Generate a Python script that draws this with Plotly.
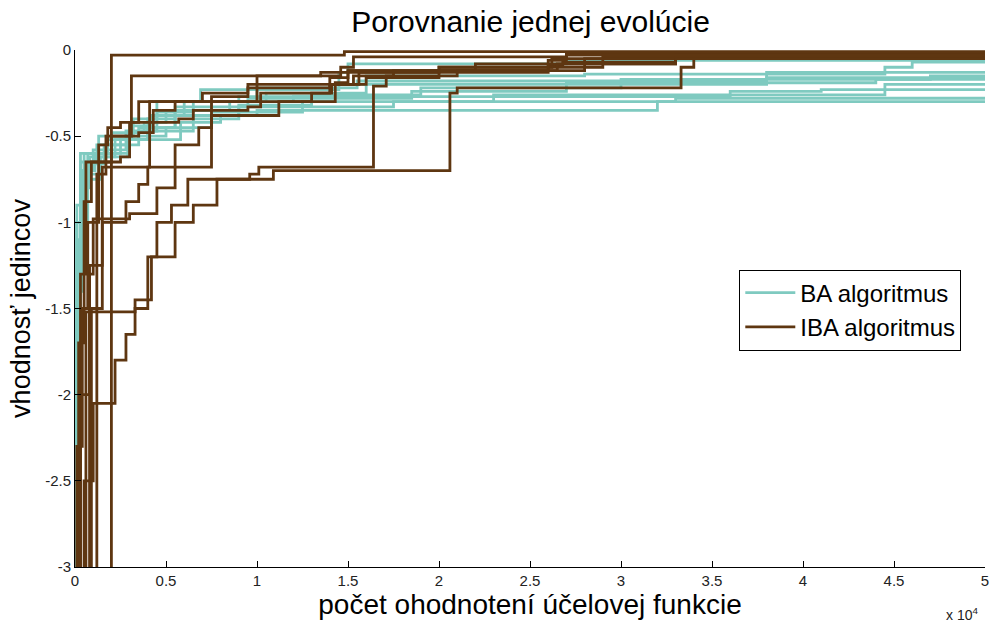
import plotly.graph_objects as go

# x in thousands of evaluations (scaled below), y = best-so-far fitness
ba_runs = [
    ([0, 0.15, 0.4, 1.3, 3.0, 5.8, 8, 10, 32, 50], [-3.3, -1.4, -0.72, -0.6, -0.52, -0.42, -0.38, -0.35, -0.3, -0.3]),
    ([0, 0.1, 0.3, 1.2, 3.5, 5.5, 9, 17.5, 33, 50], [-3.3, -1.0, -0.65, -0.55, -0.45, -0.38, -0.33, -0.3, -0.28, -0.28]),
    ([0, 0.2, 0.5, 2.0, 3.8, 5.0, 8.5, 12, 36, 41, 50], [-3.3, -1.1, -0.6, -0.48, -0.42, -0.35, -0.3, -0.27, -0.24, -0.23, -0.23]),
    ([0, 0.1, 0.3, 0.8, 2.2, 4.0, 5.5, 7.5, 10.5, 16, 38, 50], [-3.3, -1.5, -0.8, -0.62, -0.52, -0.45, -0.35, -0.3, -0.25, -0.2, -0.16, -0.16]),
    ([0, 0.2, 0.4, 1.0, 2.8, 4.5, 6.5, 10, 15.5, 38, 50], [-3.3, -1.3, -0.7, -0.58, -0.47, -0.36, -0.3, -0.22, -0.18, -0.13, -0.13]),
    ([0, 0.1, 0.3, 1.3, 3.2, 4.5, 6.9, 14.5, 16, 28, 44.5, 46, 50], [-3.3, -0.9, -0.6, -0.5, -0.4, -0.3, -0.23, -0.2, -0.15, -0.14, -0.1, -0.07, -0.07]),
    ([0, 0.2, 0.5, 1.6, 3.0, 4.2, 6.0, 9.0, 14, 14.5, 15, 27, 50], [-3.3, -1.2, -0.66, -0.55, -0.44, -0.38, -0.3, -0.27, -0.2, -0.13, -0.08, -0.06, -0.05]),
    ([0, 0.1, 0.35, 1.1, 2.5, 4.0, 5.5, 9.5, 18.5, 27, 44, 50], [-3.3, -1.0, -0.7, -0.6, -0.52, -0.4, -0.33, -0.28, -0.24, -0.19, -0.17, -0.17]),
    ([0, 0.15, 0.45, 1.4, 2.9, 5.0, 7.5, 12.5, 23, 44.5, 50], [-3.3, -1.2, -0.75, -0.62, -0.5, -0.45, -0.36, -0.3, -0.26, -0.2, -0.2]),
    ([0, 0.3, 0.7, 1.8, 3.5, 6.5, 9.0, 13, 19, 30, 47, 50], [-3.3, -1.0, -0.6, -0.52, -0.47, -0.4, -0.32, -0.26, -0.22, -0.17, -0.15, -0.15]),
]

iba_runs = [
    ([0, 2.0, 14.8, 50], [-3.3, -0.03, -0.01, -0.01]),
    ([0, 0.6, 1.2, 1.7, 3.1, 14.6, 15.3, 27, 50], [-3.3, -1.52, -0.72, -0.5, -0.15, -0.1, -0.04, -0.02, -0.02]),
    ([0, 0.3, 0.8, 1.5, 4.1, 14.3, 15.0, 20.0, 29, 50], [-3.3, -2.0, -1.25, -0.68, -0.3, -0.19, -0.12, -0.1, -0.04, -0.03]),
    ([0, 0.9, 1.5, 2.8, 3.5, 4.0, 7.5, 9.5, 10.2, 14.1, 15.6, 26.0, 26.8, 33.0, 50], [-3.3, -1.5, -1.0, -0.88, -0.78, -0.68, -0.35, -0.33, -0.25, -0.2, -0.13, -0.09, -0.07, -0.03, -0.02]),
    ([0, 1.2, 3.3, 4.0, 4.5, 5.3, 6.2, 9.6, 10.1, 16.4, 17.1, 21, 28, 50], [-3.3, -1.52, -1.5, -1.2, -1.0, -0.9, -0.75, -0.72, -0.68, -0.21, -0.15, -0.12, -0.05, -0.04]),
    ([0, 0.5, 1.0, 2.2, 2.8, 3.3, 4.2, 5.5, 6.5, 7.8, 10.9, 20.6, 21.0, 33.3, 34, 50], [-3.3, -2.5, -2.05, -1.8, -1.65, -1.45, -1.2, -1.0, -0.9, -0.75, -0.7, -0.25, -0.22, -0.1, -0.05, -0.03]),
    ([0, 0.3, 0.6, 2.5, 3.0, 5.7, 6.5, 7.5, 10.0, 13.5, 20, 26.2, 50], [-3.3, -1.3, -0.65, -0.62, -0.42, -0.4, -0.35, -0.3, -0.15, -0.13, -0.1, -0.05, -0.04]),
    ([0, 0.8, 1.0, 3.0, 4.5, 5.5, 6.8, 7.5, 11.2, 13.0, 14.0, 16.0, 20, 22, 33, 50], [-3.3, -1.3, -0.98, -0.95, -0.8, -0.55, -0.45, -0.38, -0.3, -0.25, -0.2, -0.16, -0.12, -0.08, -0.05, -0.01]),
    ([0, 0.2, 0.5, 0.9, 2.0, 3.5, 4.3, 5.5, 7.0, 9.5, 15.3, 17.5, 26.5, 33, 50], [-3.3, -1.7, -0.88, -0.65, -0.5, -0.48, -0.35, -0.3, -0.25, -0.2, -0.15, -0.12, -0.08, -0.05, -0.02]),
    ([0, 0.1, 0.4, 0.7, 1.3, 1.8, 2.5, 3.5, 7.5, 9.5, 14, 15, 26, 27, 50], [-3.3, -2.3, -1.5, -1.0, -0.55, -0.45, -0.42, -0.3, -0.27, -0.22, -0.16, -0.12, -0.06, -0.03, -0.02]),
]

x_tick_vals = [0, 5000, 10000, 15000, 20000, 25000, 30000, 35000, 40000, 45000, 50000]
x_tick_text = ["0", "0.5", "1", "1.5", "2", "2.5", "3", "3.5", "4", "4.5", "5"]
y_tick_vals = [0, -0.5, -1, -1.5, -2, -2.5, -3]
y_tick_text = ["0", "-0.5", "-1", "-1.5", "-2", "-2.5", "-3"]

BA_COLOR = "#7fcac0"
IBA_COLOR = "#5e3611"

fig = go.Figure()
for i, (xs, ys) in enumerate(ba_runs):
    fig.add_trace(go.Scatter(
        x=[v * 1000 for v in xs], y=ys, mode="lines", line_shape="hv",
        line=dict(color=BA_COLOR, width=2.8),
        name="BA algoritmus", legendgroup="ba", showlegend=(i == 0)))
for i, (xs, ys) in enumerate(iba_runs):
    fig.add_trace(go.Scatter(
        x=[v * 1000 for v in xs], y=ys, mode="lines", line_shape="hv",
        line=dict(color=IBA_COLOR, width=2.8),
        name="IBA algoritmus", legendgroup="iba", showlegend=(i == 0)))

font_family = "Liberation Sans, Arial, sans-serif"
fig.update_layout(
    width=990, height=623,
    margin=dict(l=75, r=5, t=50, b=56, autoexpand=False),
    paper_bgcolor="white", plot_bgcolor="white",
    title=dict(text="Porovnanie jednej evolúcie", x=0.536, xanchor="center",
               y=0.966, yanchor="middle",
               font=dict(family=font_family, size=30, color="black")),
    font=dict(family=font_family, color="black"),
    legend=dict(x=0.73, y=0.497, xanchor="left", yanchor="middle",
                bordercolor="black", borderwidth=1, bgcolor="white",
                font=dict(size=24, color="black"), itemwidth=50,
                tracegroupgap=0),
    xaxis=dict(range=[0, 50000], tickvals=x_tick_vals, ticktext=x_tick_text,
               ticks="inside", ticklen=6, tickcolor="black", showline=True,
               linecolor="black", linewidth=1, showgrid=False, zeroline=False,
               automargin=False,
               tickfont=dict(size=15, color="#222"),
               title=dict(text="počet ohodnotení účelovej funkcie",
                          font=dict(size=28, color="black"), standoff=4)),
    yaxis=dict(range=[-3, 0], tickvals=y_tick_vals, ticktext=y_tick_text,
               ticks="inside", ticklen=6, tickcolor="black", showline=True,
               linecolor="black", linewidth=1, showgrid=False, zeroline=False,
               automargin=False,
               tickfont=dict(size=15, color="#222"),
               title=dict(text="vhodnosť jedincov",
                          font=dict(size=27, color="black"), standoff=6)),
)
fig.add_annotation(text="x 10<sup>4</sup>", xref="paper", yref="paper",
                   x=0.995, y=-0.07, xanchor="right", yanchor="top",
                   showarrow=False, font=dict(size=14, color="#222"))

fig.write_html("out.html")
